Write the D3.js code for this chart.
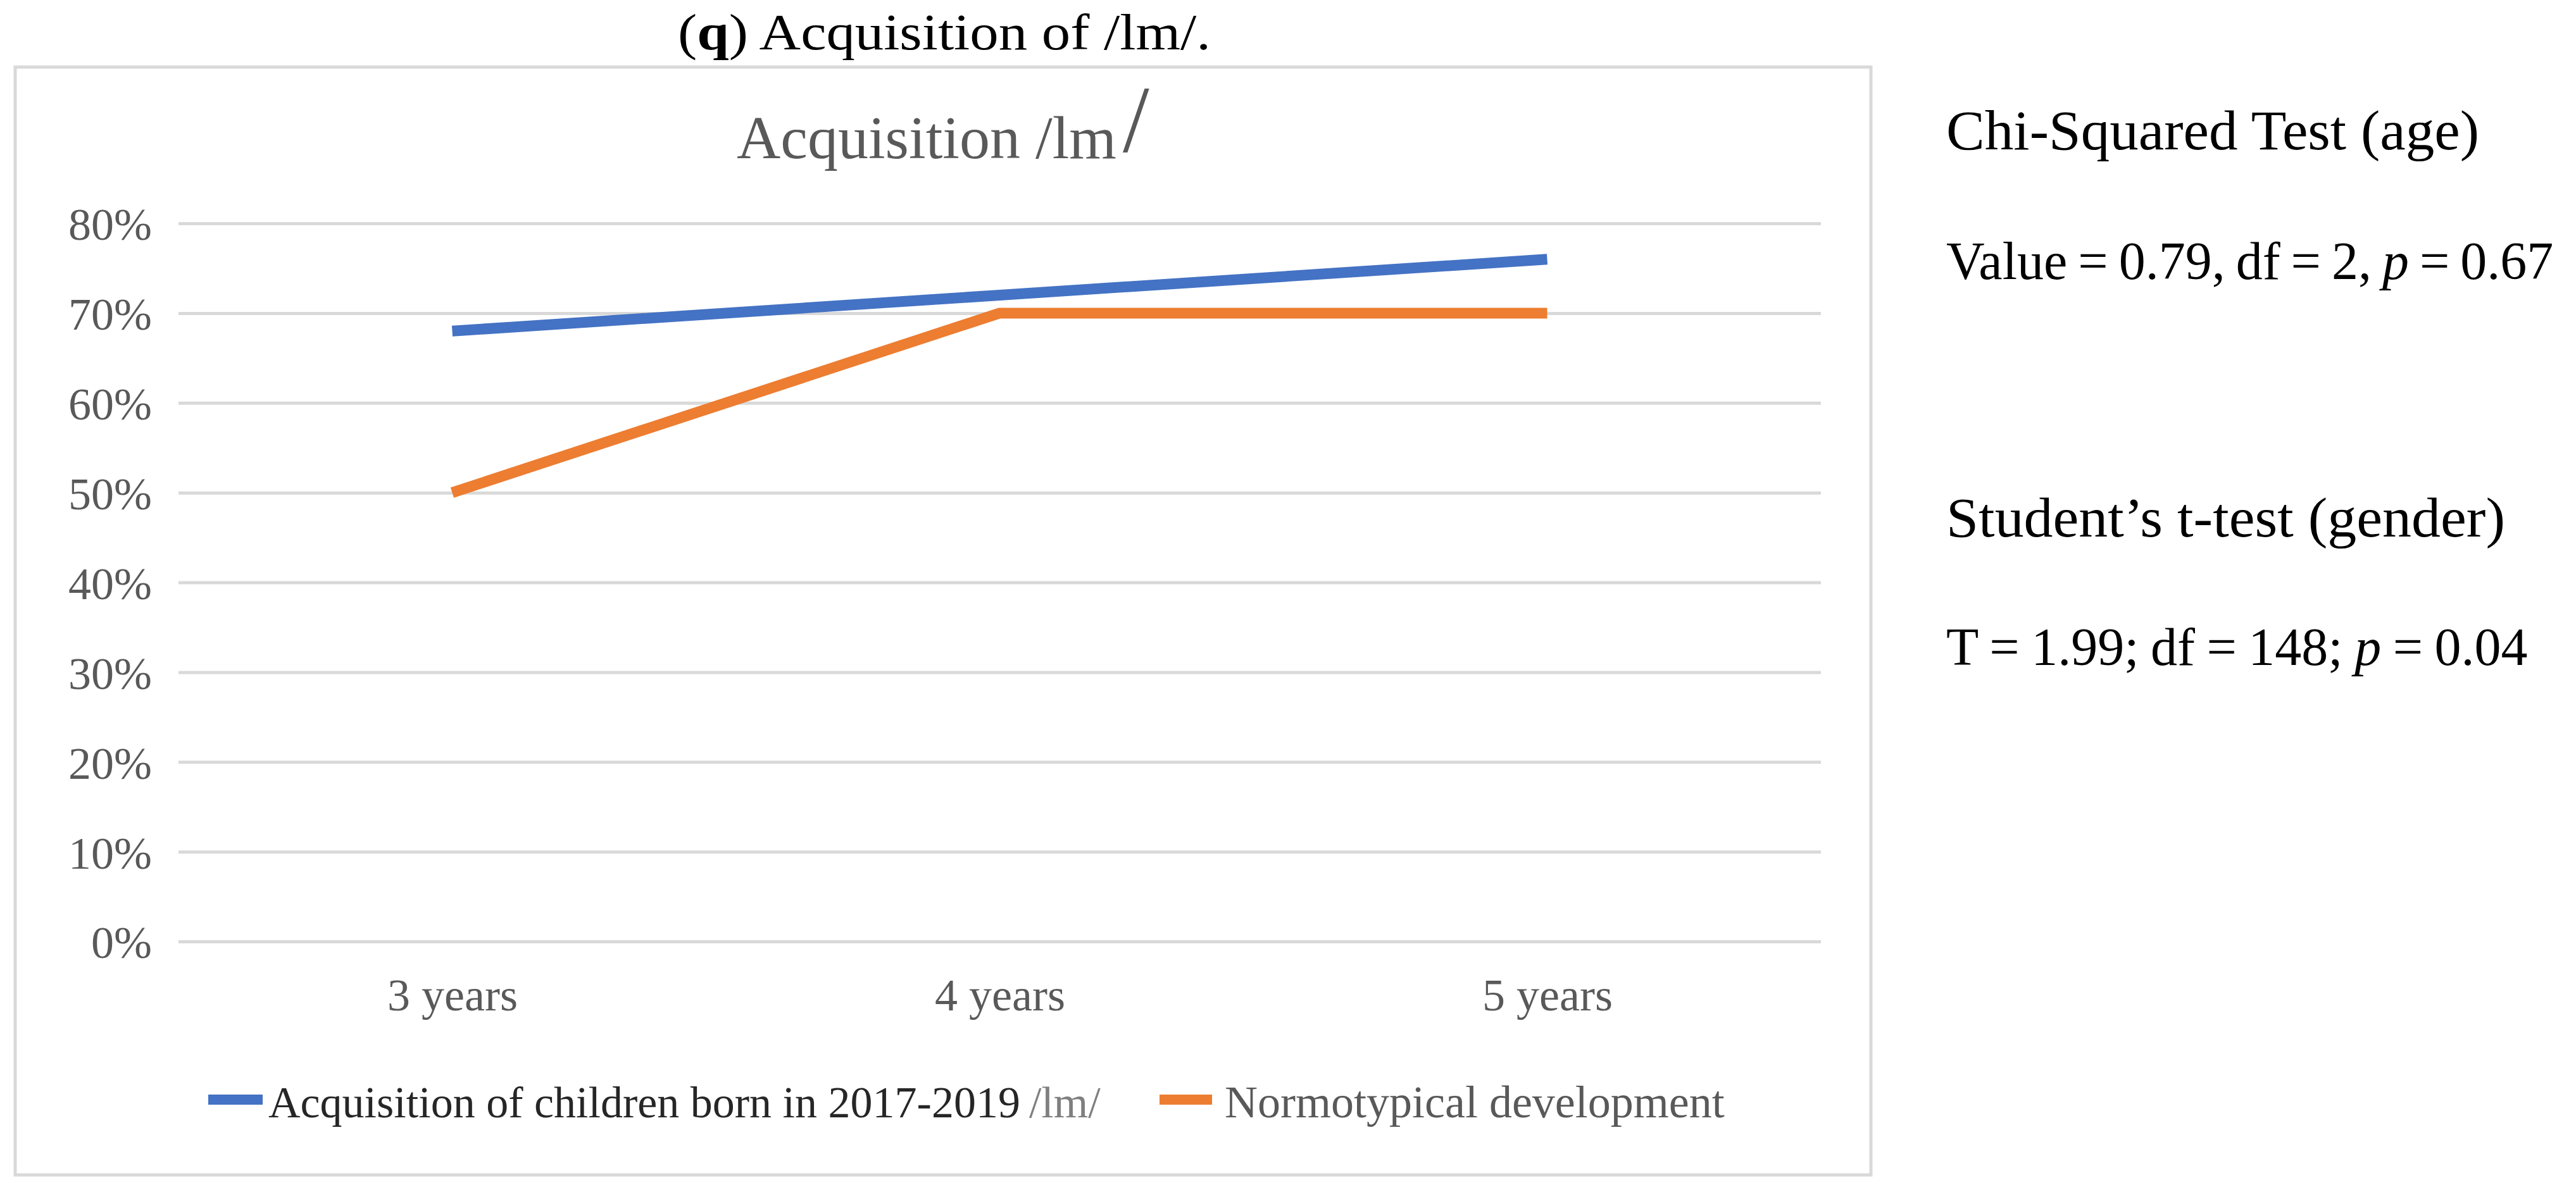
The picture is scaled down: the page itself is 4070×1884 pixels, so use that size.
<!DOCTYPE html>
<html>
<head>
<meta charset="utf-8">
<script src="https://cdn.jsdelivr.net/npm/d3@7"></script>
<style>
  body { margin: 0; background: #fff; }
  text { font-family: "Liberation Serif", "Times New Roman", serif; }
</style>
</head>
<body>
<script>
// data
const categories = ["3 years", "4 years", "5 years"];
const acquisitionValues = [0.68, 0.72, 0.76];
const normotypicalValues = [0.50, 0.70, 0.70];
const yTicks = [0, 0.1, 0.2, 0.3, 0.4, 0.5, 0.6, 0.7, 0.8];
const seriesNames = ["Acquisition of children born in 2017-2019", "Normotypical development"];
const seriesColors = ["#4472C4", "#ED7D31"];

const width = 4070, height = 1884;
const plot = { left: 282, right: 2877, top: 353, bottom: 1488 };

var svg = d3.select("body")
    .append("svg")
    .attr("width", width)
    .attr("height", height);

svg.append("rect").attr("width", width).attr("height", height).attr("fill", "#fff");

// panel caption above the chart
svg.append("text")
    .attr("x", 1071)
    .attr("y", 78)
    .attr("font-size", 80)
    .attr("fill", "#000")
    .attr("textLength", 842)
    .attr("lengthAdjust", "spacingAndGlyphs")
    .call(t => {
        t.append("tspan").text("(");
        t.append("tspan").attr("font-weight", "bold").text("q");
        t.append("tspan").text(") Acquisition of /lm/.");
    });

// chart frame
svg.append("rect")
    .attr("x", 24)
    .attr("y", 106)
    .attr("width", 2956 - 24)
    .attr("height", 1857 - 106)
    .attr("fill", "none")
    .attr("stroke", "#d9d9d9")
    .attr("stroke-width", 5);

// chart title (the closing slash is drawn bigger, as in the original)
svg.append("text")
    .attr("class", "chartTitle")
    .attr("x", 1164)
    .attr("y", 250)
    .attr("font-size", 96)
    .attr("fill", "#595959")
    .text("Acquisition /lm");
svg.append("text")
    .attr("class", "chartTitle")
    .attr("x", 1774)
    .attr("y", 240)
    .attr("font-size", 150)
    .attr("fill", "#595959")
    .text("/");

const xScale = d3.scalePoint()
    .domain(categories)
    .range([plot.left, plot.right])
    .padding(0.5);

const yScale = d3.scaleLinear()
    .domain([0, 0.8])
    .range([plot.bottom, plot.top]);

//Axis (y axis doubles as the gridlines)
const yAxis = d3.axisLeft(yScale)
    .tickValues(yTicks)
    .tickFormat(d3.format(".0%"))
    .tickSizeInner(-(plot.right - plot.left))
    .tickSizeOuter(0)
    .tickPadding(42);

const yAxisGroup = svg.append("g")
    .attr("class", "y axis")
    .attr("transform", `translate(${plot.left},0)`)
    .call(yAxis);
yAxisGroup.select(".domain").remove();
yAxisGroup.selectAll("line")
    .attr("stroke", "#d9d9d9")
    .attr("stroke-width", 5);
yAxisGroup.selectAll("text")
    .attr("font-family", "Liberation Serif")
    .attr("font-size", 72)
    .attr("fill", "#595959")
    .attr("dy", "0.36em");

const xAxis = d3.axisBottom(xScale).tickSize(0).tickPadding(58);
const xAxisGroup = svg.append("g")
    .attr("class", "x axis")
    .attr("transform", `translate(0,${plot.bottom})`)
    .call(xAxis);
xAxisGroup.select(".domain").remove();
xAxisGroup.selectAll("text")
    .attr("font-family", "Liberation Serif")
    .attr("font-size", 72)
    .attr("fill", "#595959");

// series lines
const line = d3.line()
    .x((d, i) => xScale(categories[i]))
    .y(d => yScale(d));

[acquisitionValues, normotypicalValues].forEach(function (values, i) {
    svg.append("path")
        .datum(values)
        .attr("fill", "none")
        .attr("stroke", seriesColors[i])
        .attr("stroke-width", 17)
        .attr("stroke-linejoin", "round")
        .attr("stroke-linecap", "butt")
        .attr("d", line);
});

// legend
const legendY = 1738;
svg.append("line")
    .attr("x1", 329).attr("x2", 415)
    .attr("y1", legendY).attr("y2", legendY)
    .attr("stroke", seriesColors[0]).attr("stroke-width", 16);
svg.append("text")
    .attr("x", 424)
    .attr("y", 1766)
    .attr("font-size", 70)
    .call(t => {
        t.append("tspan").attr("fill", "#262626").text(seriesNames[0]);
        t.append("tspan").attr("fill", "#7f7f7f").attr("dx", 14).text("/lm/");
    });
svg.append("line")
    .attr("x1", 1832).attr("x2", 1915)
    .attr("y1", legendY).attr("y2", legendY)
    .attr("stroke", seriesColors[1]).attr("stroke-width", 16);
svg.append("text")
    .attr("x", 1935)
    .attr("y", 1766)
    .attr("font-size", 72)
    .attr("fill", "#595959")
    .text(seriesNames[1]);

// statistics notes on the right
const notes = [
    { y: 236, size: 88, len: 842, ws: 0, parts: [["Chi-Squared Test (age)", false]] },
    { y: 441, size: 84, len: null, ws: -4, parts: [["Value = 0.79, df = 2, ", false], ["p", true], [" = 0.67", false]] },
    { y: 848, size: 88, len: 883, ws: 0, parts: [["Student\u2019s t-test (gender)", false]] },
    { y: 1051, size: 84, len: null, ws: -2.5, parts: [["T = 1.99; df = 148; ", false], ["p", true], [" = 0.04", false]] }
];

svg.selectAll(".note")
    .data(notes).enter().append("text")
    .attr("class", "note")
    .attr("x", 3075)
    .attr("y", d => d.y)
    .attr("font-size", d => d.size)
    .attr("fill", "#000")
    .attr("word-spacing", d => d.ws)
    .attr("textLength", d => d.len)
    .attr("lengthAdjust", d => d.len ? "spacingAndGlyphs" : null)
    .each(function (d) {
        const t = d3.select(this);
        d.parts.forEach(p => {
            t.append("tspan")
                .attr("font-style", p[1] ? "italic" : "normal")
                .text(p[0]);
        });
    });
</script>
</body>
</html>
